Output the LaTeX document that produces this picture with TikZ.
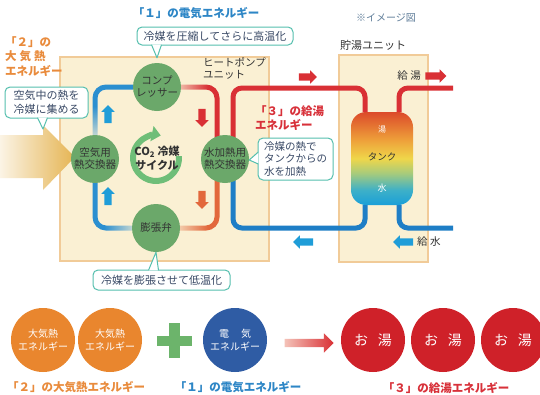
\documentclass[tikz,border=0pt]{standalone}
\usepackage{fontspec}
\setmainfont{Noto Sans CJK JP}
\usetikzlibrary{positioning,shapes.arrows,arrows.meta,fadings}

\definecolor{hpbox}{HTML}{FAF0D3}
\definecolor{hpedge}{HTML}{F1CB98}
\definecolor{hpgreen}{HTML}{6BA86A}
\definecolor{darktext}{HTML}{333333}
\definecolor{ringgreen}{HTML}{6FBE78}
\definecolor{pipered}{HTML}{D93035}
\definecolor{pipeorange}{HTML}{E2683C}
\definecolor{pipeblue}{HTML}{2B8FD0}
\definecolor{waterblue}{HTML}{1E7EC6}
\definecolor{arrowcyan}{HTML}{1F9DD8}
\definecolor{notedge}{HTML}{55BFAE}
\definecolor{notetext}{HTML}{3A4A66}
\definecolor{notegray}{HTML}{5F7D99}
\definecolor{elecblue}{HTML}{2D86C6}
\definecolor{airorange}{HTML}{E98B3C}
\definecolor{hotred}{HTML}{D8313A}
\definecolor{airgold}{HTML}{E5B452}
\definecolor{bigorange}{HTML}{E9862E}
\definecolor{bigblue}{HTML}{2F5CA4}
\definecolor{bigred}{HTML}{CF2129}
\definecolor{plusgreen}{HTML}{6CB46B}
\definecolor{arrowpink}{HTML}{F4C2B8}
\definecolor{tankblue}{HTML}{1A9FD8}
\definecolor{tankteal}{HTML}{3DB0C8}
\definecolor{tankgreen}{HTML}{A6CB7C}
\definecolor{tankyellow}{HTML}{EFD64A}
\definecolor{tankamber}{HTML}{EEA03A}
\definecolor{tankred}{HTML}{DC4A2A}

% water in the tank: cold at the bottom, hot at the top
\pgfdeclareverticalshading{tankfill}{100bp}{%
  color(0bp)=(tankblue); color(25bp)=(tankblue); color(33bp)=(tankteal);
  color(42bp)=(tankgreen); color(50bp)=(tankyellow); color(60bp)=(tankamber);
  color(75bp)=(tankred); color(100bp)=(tankred)}

\pgfdeclarelayer{back}
\pgfdeclarelayer{pipes}
\pgfsetlayers{back,pipes,main}

\begin{document}
\begin{tikzpicture}[x=1pt,y=-1pt,
  hpcircle/.style={circle,fill=hpgreen,minimum size=48pt,inner sep=0pt,align=center,
    text=darktext,font=\fontsize{10.5}{12}\selectfont},
  bigcircle/.style={circle,minimum size=64pt,inner sep=0pt,align=center,text=white,
    font=\fontsize{10}{12.5}\selectfont},
  note/.style={draw=notedge,fill=white,line width=1pt,rounded corners=5pt,text=notetext,
    align=left,inner xsep=5pt,inner ysep=3pt,font=\fontsize{11}{13.5}\selectfont},
  notetail/.style={fill=white,draw=notedge,line width=1pt,line join=round},
  refpipe/.style={line width=5pt,rounded corners=11pt},
  waterpipe/.style={line width=5pt,rounded corners=9pt},
  flow/.style={single arrow,inner sep=3.5pt,minimum height=18pt,
    single arrow head extend=3pt},
  tag/.style={font=\bfseries\fontsize{11.5}{14.5}\selectfont,inner sep=0pt,align=left},
  caption/.style={text=darktext,inner sep=0pt,align=left,font=\fontsize{10.5}{12.5}\selectfont}
]
\useasboundingbox (0,0) rectangle (540,394);

% unit housings
\begin{pgfonlayer}{back}
\fill[white] (0,0) rectangle (540,394);
\filldraw[fill=hpbox,draw=hpedge,line width=1.2pt] (60,57) rectangle (269,261);
\filldraw[fill=hpbox,draw=hpedge,line width=1.2pt] (339,55) rectangle (428,262);
\end{pgfonlayer}

% heat from the air
\shade[left color=airgold!15,right color=airgold] (0,135) -- (43,135) -- (43,125)
  -- (75,157) -- (43,190) -- (43,178) -- (0,178) -- cycle;

% hot water tank
\node[rounded corners=15pt,shading=tankfill,minimum width=62pt,minimum height=93pt]
  (tank) at (382,158.5) {};
\node[text=white,font=\fontsize{8}{9}\selectfont] (tankhot) at (382,129) {湯};
\node[text=darktext,font=\fontsize{9.5}{11}\selectfont] (tanklbl) at (382,157) {タンク};
\node[text=white,font=\fontsize{9}{10}\selectfont] (tankcold) at (382,188) {水};

% heat pump components
\node[hpcircle] (comp)  at (157,87)  {コンプ\\レッサー};
\node[hpcircle] (ahx)   at (95,159)  {空気用\\熱交換器};
\node[hpcircle] (whx)   at (225,159) {水加熱用\\熱交換器};
\node[hpcircle] (valve) at (156,228) {膨張弁};

\coordinate (hotlvl)  at (300,88);
\coordinate (coldlvl) at (300,228);
\coordinate (hotout)  at (453,88);
\coordinate (coldin)  at (453,228);

\begin{pgfonlayer}{pipes}
% refrigerant loop
\draw[refpipe,pipeblue] (ahx) |- (comp);
\draw[refpipe,pipered] (comp) -| ([xshift=-8pt]whx.center);
\draw[refpipe,pipeorange] ([xshift=-8pt]whx.center) |- (valve);
\draw[refpipe,pipeblue] (valve) -| (ahx);
\fill[hpbox,fill opacity=.8,path fading=east] (177,82) rectangle (208,93);
\fill[hpbox,fill opacity=.8,path fading=east] (177,222) rectangle (208,234);
\fill[hpbox,fill opacity=.8,path fading=west] (104,222) rectangle (135,234);
\fill[hpbox,fill opacity=.8,path fading=north] (89,106) rectangle (101,138);
% water loop
\draw[waterpipe,pipered] ([xshift=8pt]whx.center) |- (hotlvl) -| ([xshift=-17pt]tank.north);
\draw[waterpipe,pipered] ([xshift=17pt]tank.north) |- (hotout);
\draw[waterpipe,waterblue] ([xshift=8pt]whx.center) |- (coldlvl) -| ([xshift=-17pt]tank.south);
\draw[waterpipe,waterblue] ([xshift=17pt]tank.south) |- (coldin);
\end{pgfonlayer}

% CO2 cycle
\draw[ringgreen,line width=6pt,-{Triangle[width=15pt,length=9pt]}]
  (156,158) ++(-5:23) arc[start angle=-5,end angle=282,radius=23];
\node[font=\bfseries\fontsize{11}{13.5}\selectfont,text=darktext,align=center]
  (cycle) at (157,158) {CO\textsubscript{2} 冷媒\\サイクル};

% flow directions
\node[flow,fill=arrowcyan,shape border rotate=90] (upA) at (108,116) {};
\node[flow,fill=arrowcyan,shape border rotate=90] (upB) at (108,198) {};
\node[flow,fill=pipered,shape border rotate=270] (downA) at (202,116) {};
\node[flow,fill=pipeorange,shape border rotate=270] (downB) at (202,198) {};
\node[flow,fill=pipered] (hotA) at (306,77) {};
\node[flow,fill=pipered,minimum height=21pt] (hotB) at (434,76) {};
\node[flow,fill=arrowcyan,shape border rotate=180,minimum height=20pt] (coldA) at (305,242) {};
\node[flow,fill=arrowcyan,shape border rotate=180,minimum height=20pt] (coldB) at (405,242) {};

% labels
\node[tag,text=elecblue] (elecTop) at (196,13) {「１」の電気エネルギー};
\node[text=notegray,font=\fontsize{10}{12}\selectfont] (imgnote) at (386,18) {※イメージ図};
\node[tag,text=airorange,anchor=north west] (airTop) at (5,36) {「２」の\\大\hspace{3pt}気\hspace{3pt}熱\\エネルギー};
\node[caption,anchor=north west] (hpname) at (203,57) {ヒートポンプ\\ユニット};
\node[caption,font=\fontsize{11}{13}\selectfont] (tankname) at (373,45) {貯湯ユニット};
\node[tag,text=hotred,anchor=north west] (hotTag) at (255,105) {「３」の給湯\\エネルギー};
\node[caption,anchor=east] (supplyhot) at (421,76) {給 湯};
\node[caption,anchor=west] (supplycold) at (417,242) {給 水};

% notes
\node[note,minimum width=156pt,minimum height=18pt] (cmpnote) at (215,36) {冷媒を圧縮してさらに高温化};
\filldraw[notetail] ([xshift=15pt,yshift=0.8pt]cmpnote.south west) -- ([yshift=5pt]comp.north)
  -- ([xshift=25pt,yshift=0.8pt]cmpnote.south west);
\coordinate (airtip) at (43,129);
\node[note,minimum width=83pt,minimum height=31pt] (airnote) at (46.5,102.5) {空気中の熱を\\冷媒に集める};
\filldraw[notetail] ([xshift=33pt,yshift=0.8pt]airnote.south west) -- (airtip)
  -- ([xshift=43pt,yshift=0.8pt]airnote.south west);
\node[note,minimum width=75pt,minimum height=42pt,font=\fontsize{10.5}{12.5}\selectfont]
  (heatnote) at (295.5,159) {冷媒の熱で\\タンクからの\\水を加熱};
\filldraw[notetail] ([xshift=0.8pt,yshift=7pt]heatnote.west) -- ([yshift=-1pt]whx.east)
  -- ([xshift=0.8pt,yshift=-5pt]heatnote.west);
\node[note,minimum width=137pt,minimum height=20pt] (valvenote) at (161.5,280) {冷媒を膨張させて低温化};
\filldraw[notetail] ([xshift=56pt,yshift=-0.8pt]valvenote.north west) -- (valve.south)
  -- ([xshift=66pt,yshift=-0.8pt]valvenote.north west);

% energy balance
\node[bigcircle,fill=bigorange] (air1) at (43,340) {大気熱\\エネルギー};
\node[bigcircle,fill=bigorange] (air2) at (110,340) {大気熱\\エネルギー};
\fill[plusgreen] (157,336) rectangle (192,346);
\fill[plusgreen] (169,323) rectangle (180,358);
\node[bigcircle,fill=bigblue] (elec) at (235,340) {電\hspace{1.2em}気\\エネルギー};
\node[single arrow,inner sep=4pt,minimum height=49pt,
  single arrow head extend=5.5pt,left color=arrowpink,right color=pipered] (sumarrow) at (307,343) {};
\foreach \x/\n in {373/hot1,443/hot2,513/hot3}
  \node[bigcircle,fill=bigred,font=\fontsize{14}{16}\selectfont] (\n) at (\x,340) {お\hspace{.7em}湯};

\node[tag,text=airorange] (airBottom) at (76,387) {「２」の大気熱エネルギー};
\node[tag,text=elecblue] (elecBottom) at (238,387) {「１」の電気エネルギー};
\node[tag,text=hotred] (hotBottom) at (446,388) {「３」の給湯エネルギー};
\end{tikzpicture}
\end{document}
